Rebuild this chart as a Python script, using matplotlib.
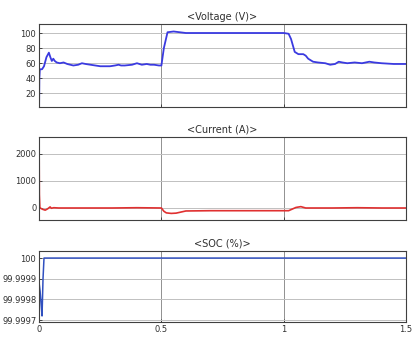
import numpy as np
import matplotlib.pyplot as plt

plt.rcParams['font.family'] = 'DejaVu Sans'
plt.rcParams['font.size'] = 6.5
plt.rcParams['xtick.direction'] = 'in'
plt.rcParams['ytick.direction'] = 'in'

# voltage (V)
t_v = [0.0, 0.001, 0.003, 0.012, 0.02, 0.03, 0.04, 0.046, 0.052, 0.058, 0.064, 0.072,
       0.085, 0.1, 0.115, 0.14, 0.16, 0.175, 0.19, 0.21, 0.25, 0.29, 0.31, 0.325, 0.335,
       0.35, 0.38, 0.4, 0.42, 0.44, 0.455, 0.47, 0.49, 0.5, 0.51, 0.525, 0.55, 0.6,
       0.7, 0.8, 0.9, 1.0, 1.02, 1.03, 1.045, 1.06, 1.08, 1.09, 1.1, 1.12, 1.14, 1.17,
       1.19, 1.21, 1.225, 1.24, 1.26, 1.29, 1.32, 1.35, 1.37, 1.4, 1.45, 1.5]
volt = [2, 40, 52, 52, 56, 68, 74, 68, 63, 66, 63, 61,
        60, 61, 59, 57, 58, 60, 59, 58, 56, 56, 57, 58, 57,
        57, 58, 60, 58, 59, 58, 58, 57, 57, 80, 101, 102, 100,
        100, 100, 100, 100, 99, 92, 75, 72, 72, 70, 66, 62, 61, 60,
        58, 59, 62, 61, 60, 61, 60, 62, 61, 60, 59, 59]

# current (A)
t_i = [0.0, 0.001, 0.003, 0.008, 0.015, 0.025, 0.035, 0.045, 0.05, 0.06, 0.08, 0.12,
       0.2, 0.3, 0.4, 0.5, 0.51, 0.52, 0.54, 0.56, 0.58, 0.6, 0.7, 0.8, 0.9, 1.0,
       1.02, 1.03, 1.05, 1.07, 1.09, 1.12, 1.2, 1.3, 1.4, 1.5]
curr = [2400, 500, 20, -20, -50, -80, -30, 40, -10, 10, 0, 0,
        0, 0, 10, 0, -120, -180, -200, -190, -150, -110, -100, -100, -100, -100,
        -100, -60, 20, 50, 0, 0, 0, 10, 0, 0]

# SOC (%)
t_s = [0.0, 0.004, 0.008, 0.012, 0.016, 0.02, 0.5, 1.0, 1.5]
soc = [99.99988, 99.99984, 99.99978, 99.99972, 99.9999, 100.0, 100.0, 100.0, 100.0]

fig = plt.figure(figsize=(4.16, 3.42), dpi=100)
ax1 = fig.add_axes([0.094, 0.687, 0.882, 0.243])
ax2 = fig.add_axes([0.094, 0.357, 0.882, 0.243])
ax3 = fig.add_axes([0.094, 0.058, 0.882, 0.208])

ax1.plot(t_v, volt, color='#3a3ae0', lw=1.3)
ax1.set_ylim(2, 112)
ax1.set_yticks([20, 40, 60, 80, 100])
ax1.set_title('<Voltage (V)>', fontsize=7, pad=3, color='#303030')

ax2.plot(t_i, curr, color='#e03030', lw=1.2)
ax2.set_ylim(-440, 2630)
ax2.set_yticks([0, 1000, 2000])
ax2.set_title('<Current (A)>', fontsize=7, pad=3, color='#303030')

ax3.plot(t_s, soc, color='#3050c0', lw=1.1)
ax3.set_ylim(99.99969, 100.000034)
ax3.set_yticks([99.9997, 99.9998, 99.9999, 100.0])
ax3.set_yticklabels(['99.9997', '99.9998', '99.9999', '100'])
ax3.set_title('<SOC (%)>', fontsize=7, pad=3, color='#303030')

for ax in (ax1, ax2, ax3):
    ax.set_xlim(0, 1.5)
    ax.set_xticks([0, 0.5, 1, 1.5])
    ax.yaxis.grid(True, color='#c0c0c0', lw=0.7)
    ax.xaxis.grid(True, color='#909090', lw=0.7)
    ax.set_axisbelow(True)
    ax.tick_params(length=2, width=0.6, labelsize=6, pad=2, colors='#303030')
    for sp in ax.spines.values():
        sp.set_color('#404040')
        sp.set_linewidth(0.8)
ax1.set_xticklabels([])
ax2.set_xticklabels([])
ax3.set_xticklabels(['0', '0.5', '1', '1.5'])

plt.savefig('out.png', dpi=100)
